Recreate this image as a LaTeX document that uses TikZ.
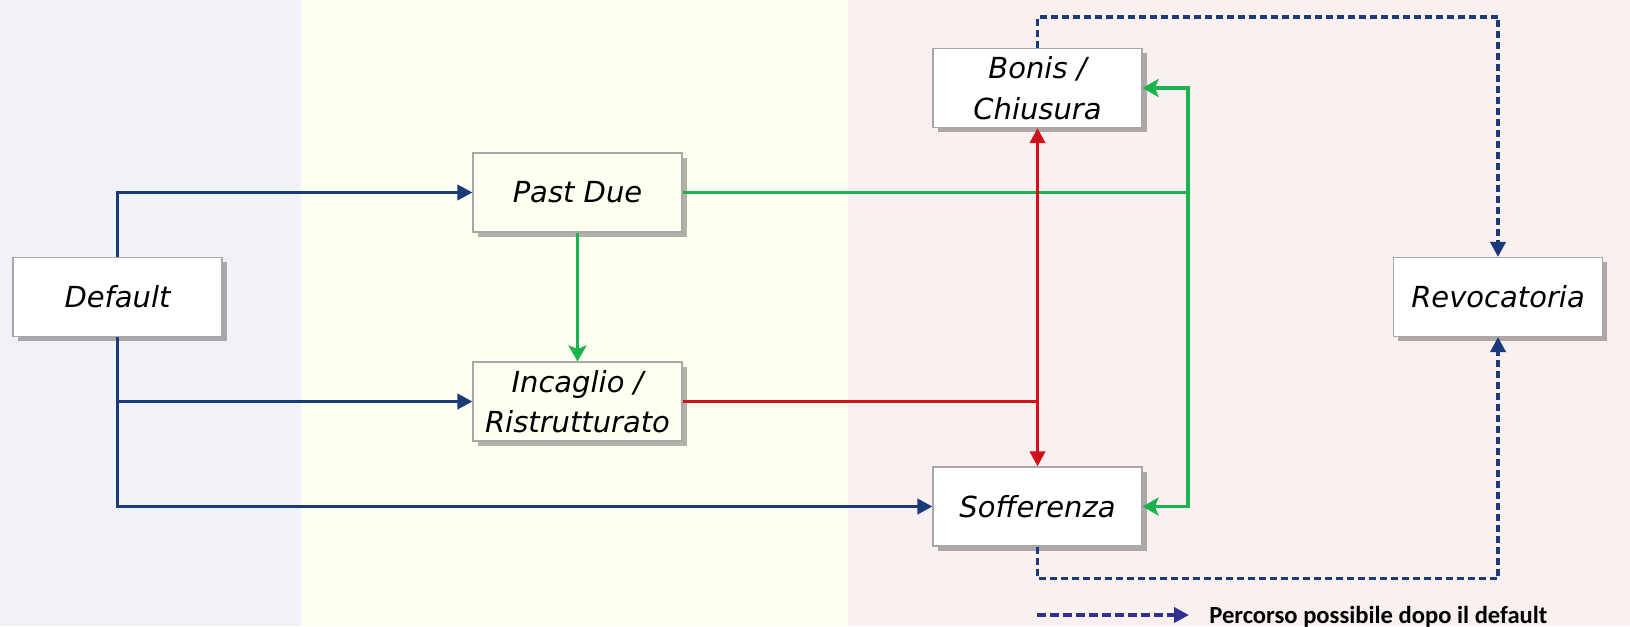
\documentclass[tikz,border=0pt]{standalone}
\usepackage{fontspec}
\setmainfont{DejaVu Sans}
\newfontfamily\legendfont{Carlito}
\usepackage{tikz}
\usetikzlibrary{arrows.meta,positioning,shadows}
\definecolor{BandBlue}{HTML}{F1F2F7}
\definecolor{BandCream}{HTML}{FFFFF2}
\definecolor{BandRose}{HTML}{FBF0F0}
\definecolor{Navy}{HTML}{1B3A7A}
\definecolor{LegendNavy}{HTML}{2E3192}
\definecolor{Flow}{HTML}{1DB34F}
\definecolor{Alert}{HTML}{D0121B}
\definecolor{Edge}{HTML}{A8A8A8}

\begin{document}
\begin{tikzpicture}[
    font=\fontsize{16.5}{23}\selectfont\itshape,
    status/.style={draw=Edge, fill=white, line width=0.6pt, minimum width=4.18cm, minimum height=1.58cm, inner sep=0pt, align=center,
      drop shadow={shadow xshift=0.09cm, shadow yshift=-0.09cm, fill=black, opacity=0.3}},
    navy/.style={-{Triangle[length=0.3cm,width=0.3cm]}, line width=2pt, Navy},
    flow/.style={-{Stealth[length=0.32cm,width=0.36cm,inset=0.07cm]}, line width=2pt, Flow},
    alert/.style={line width=2pt, Alert},
    maybe/.style={-{Triangle[length=0.3cm,width=0.3cm]}, line width=2pt, Navy, dash pattern=on 0.14cm off 0.08cm}
  ]
    \useasboundingbox (0,0) rectangle (32.6,-12.52);
    % background bands
    \fill[BandBlue] (0,0) rectangle (6.02,-12.52);
    \fill[BandCream] (6.02,0) rectangle (16.96,-12.52);
    \fill[BandRose] (16.96,0) rectangle (32.6,-12.52);

    \node[status] (default) at (2.35,-5.94) {Default};
    \node[status, fill=BandCream] (pastdue) at (11.55,-3.85) {Past Due};
    \node[status, fill=BandCream] (incaglio) at (11.55,-8.03) {Incaglio /\\Ristrutturato};
    \node[status] (bonis) at (20.75,-1.76) {Bonis /\\Chiusura};
    \node[status] (soff) at (20.75,-10.13) {Sofferenza};
    \node[status] (revoc) at (29.96,-5.94) {Revocatoria};
    \coordinate (gbus) at (23.76,0);

    \draw[navy] (default.north) |- (pastdue.west);
    \draw[navy] (default.south) |- (incaglio.west);
    \draw[navy] (default.south) |- (soff.west);
    \draw[flow] (pastdue.south) -- (incaglio.north);
    \draw[flow] (pastdue.east) -- (pastdue.east -| gbus) |- (bonis.east);
    \draw[flow] (pastdue.east -| gbus) |- (soff.east);
    \draw[alert] (incaglio.east) -- (incaglio.east -| soff.north);
    \draw[alert, {Triangle[length=0.3cm,width=0.3cm]}-{Triangle[length=0.3cm,width=0.3cm]}] (bonis.south) -- (soff.north);
    \draw[maybe] (bonis.north) -- ++(0,0.62) -| (revoc.north);
    \draw[maybe] (soff.south) -- ++(0,-0.64) -| (revoc.south);

    % legend
    \coordinate (legfrom) at (20.74,-12.3);
    \coordinate (legto) at (23.78,-12.3);
    \draw[maybe, LegendNavy, line width=2.4pt, dash pattern=on 0.17cm off 0.09cm] (legfrom) -- (legto);
    \node[anchor=base west, inner sep=0pt, font=\legendfont\bfseries\fontsize{14}{16}\selectfont] (legtext) at (24.18,-12.46) {Percorso possibile dopo il default};
  \end{tikzpicture}
\end{document}
